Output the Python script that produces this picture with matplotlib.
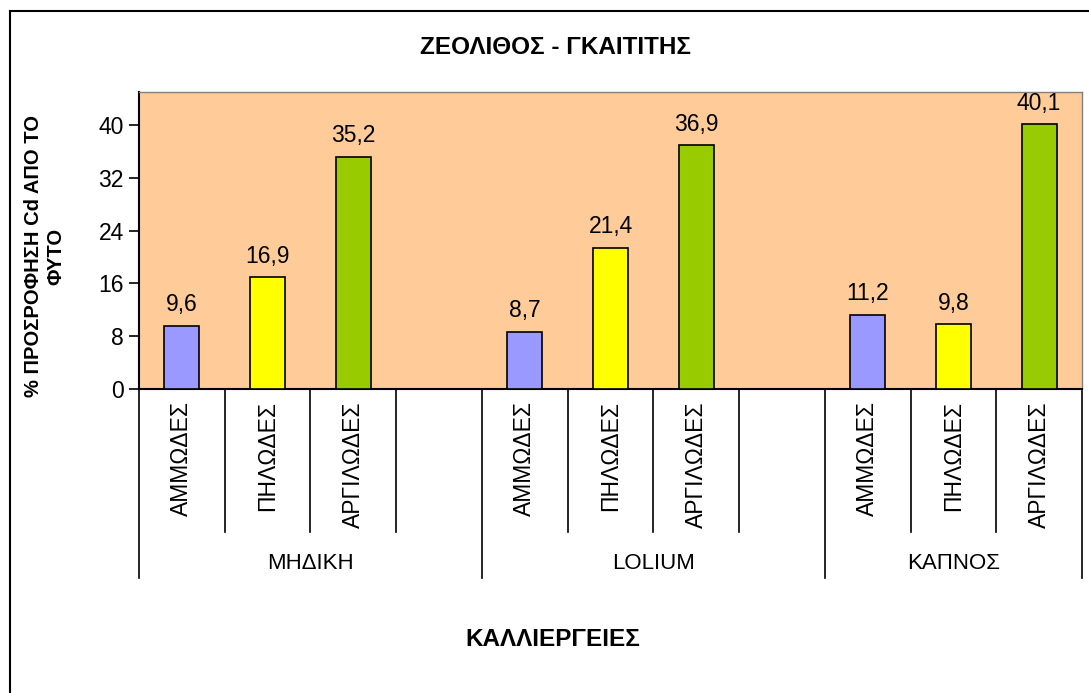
import matplotlib.pyplot as plt
import matplotlib.transforms as mtransforms
from matplotlib.lines import Line2D

plt.rcParams['font.family'] = ['Liberation Sans', 'DejaVu Sans']

# data
crops = ["ΜΗΔΙΚΗ", "LOLIUM", "ΚΑΠΝΟΣ"]
soils = ["ΑΜΜΩΔΕΣ", "ΠΗΛΩΔΕΣ", "ΑΡΓΙΛΩΔΕΣ"]
medikh = [9.6, 16.9, 35.2]
lolium = [8.7, 21.4, 36.9]
kapnos = [11.2, 9.8, 40.1]
soil_colors = ["#9999FF", "#FFFF00", "#99CC00"]
yticks = [0, 8, 16, 24, 32, 40]

W, H = 1089, 693
fig = plt.figure(figsize=(W / 100, H / 100), dpi=100)
ax = fig.add_axes([139 / W, 1 - 389 / H, (1082 - 139) / W, (389 - 92) / H])
ax.set_facecolor("#FFCC99")

# 3 bars per crop, one empty slot between crops
series = [medikh, lolium, kapnos]
slot = 0
group_bounds = [-0.5]
for gi, vals in enumerate(series):
    for si, v in enumerate(vals):
        ax.bar(slot, v, width=0.41, color=soil_colors[si], edgecolor="black", linewidth=1.2, zorder=3)
        ax.annotate(f"{v:.1f}".replace(".", ","), (slot, v), xytext=(0, 7), textcoords="offset points",
                    ha="center", va="bottom", fontsize=16.5)
        slot += 1
    if gi < len(series) - 1:
        slot += 1
    group_bounds.append(slot - 0.5)

ax.set_xlim(-0.5, slot - 0.5)
ax.set_ylim(0, 45)
ax.set_yticks(yticks)
ax.tick_params(axis="y", labelsize=16.5, length=7, width=1.2, direction="out", pad=4)
ax.set_xticks([])
for s in ["top", "right"]:
    ax.spines[s].set_color("#808080")
    ax.spines[s].set_linewidth(1)
for s in ["left", "bottom"]:
    ax.spines[s].set_color("black")
    ax.spines[s].set_linewidth(1.5)

# multi-level category axis
trans = mtransforms.blended_transform_factory(ax.transData, ax.transAxes)
slot = 0
for gi, crop in enumerate(crops):
    start = slot
    n = len(series[gi]) + (1 if gi < len(crops) - 1 else 0)
    for k in range(n):
        if k < len(soils):
            ax.text(slot, -0.042, soils[k], rotation=90, ha="center", va="top",
                    fontsize=16.5, transform=trans)
        if k < n - 1:
            ax.plot([slot + 0.5, slot + 0.5], [0, -0.481], color="black", lw=1.2,
                    transform=trans, clip_on=False)
        slot += 1
    ax.text((start + slot - 1) / 2, -0.586, crop, ha="center", va="center", fontsize=16, transform=trans)
for b in group_bounds:
    ax.plot([b, b], [0, -0.636], color="black", lw=1.2, transform=trans, clip_on=False)

fig.text(555 / W, 1 - 47 / H, "ΖΕΟΛΙΘΟΣ - ΓΚΑΙΤΙΤΗΣ", ha="center", va="center",
         fontsize=17.5, fontweight="bold")
fig.text(45 / W, 1 - 256 / H, "% ΠΡΟΣΡΟΦΗΣΗ Cd ΑΠΟ ΤΟ\nΦΥΤΟ", rotation=90, ha="center", va="center",
         multialignment="center", fontsize=14.5, fontweight="bold", linespacing=1.2)
fig.text(553 / W, 1 - 640 / H, "ΚΑΛΛΙΕΡΓΕΙΕΣ", ha="center", va="center",
         fontsize=17.5, fontweight="bold")

# outer chart frame (right and bottom edges fall outside the picture)
fig.add_artist(Line2D([10 / W, 10 / W], [0, 1 - 11 / H], color="black", lw=1.5, transform=fig.transFigure))
fig.add_artist(Line2D([10 / W, 1], [1 - 11 / H, 1 - 11 / H], color="black", lw=1.5, transform=fig.transFigure))

fig.savefig("out.png", dpi=100)
